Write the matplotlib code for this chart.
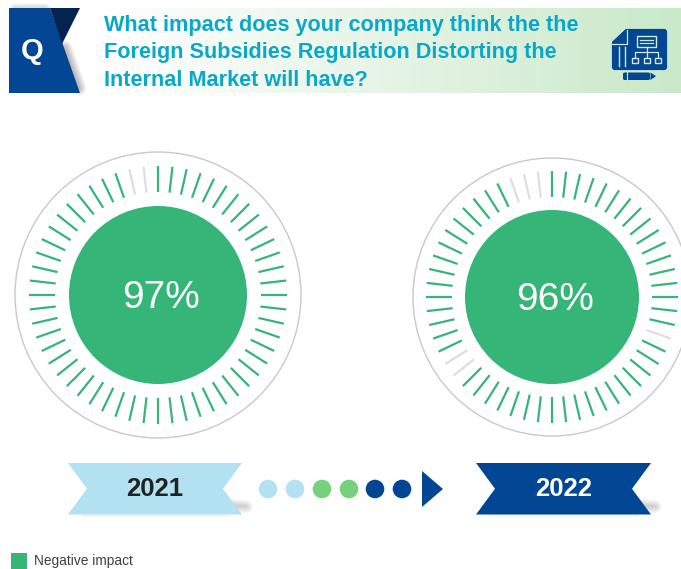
import numpy as np
import matplotlib
matplotlib.use('Agg')
import matplotlib.pyplot as plt
from matplotlib.patches import Polygon, Circle, FancyBboxPatch, Rectangle
from matplotlib.colors import LinearSegmentedColormap

# ===== Data =====
title_lines = ['What impact does your company think the the',
               'Foreign Subsidies Regulation Distorting the',
               'Internal Market will have?']
years = ['2021', '2022']
values = [97, 96]
legend_label = 'Negative impact'
n_ticks = 56
# ticks left grey, counted clockwise from 12 o'clock
grey_ticks = [[54, 55], [17, 36, 37, 53, 54, 55]]

BLUE = '#034694'
NAVY = '#04234F'
SKY = '#B2E2F2'
LEAF = '#75D17D'
GREEN = '#36B579'
TEAL = '#0AA8C8'

plt.rcParams['font.family'] = ['Liberation Sans', 'DejaVu Sans']

fig = plt.figure(figsize=(6.81, 5.69), dpi=100)
ax = fig.add_axes([0, 0, 1, 1])


def soft_line(x0, y0, x1, y1, width, alpha=0.015):
    # blurred shadow built from stacked round strokes
    for w in np.linspace(1, width, 12):
        ax.plot([x0, x1], [y0, y1], color='black', lw=w, alpha=alpha,
                solid_capstyle='round', zorder=1)


def draw_gauge(cx, cy, r_ring, r_in, r_out, r_disc, value, grey, text_x, font_size):
    ax.add_patch(Circle((cx, cy), r_ring, fc='white', ec='#C9C9C9', lw=1.0, zorder=2))
    for i in range(n_ticks):
        a = 2 * np.pi * i / n_ticks
        color = '#DEDEDE' if i in grey else GREEN
        ax.plot([cx + r_in * np.sin(a), cx + r_out * np.sin(a)],
                [cy - r_in * np.cos(a), cy - r_out * np.cos(a)],
                color=color, lw=1.6, solid_capstyle='butt', zorder=3)
    ax.add_patch(Circle((cx, cy), r_disc, fc=GREEN, ec='none', zorder=3))
    ax.text(text_x, cy + 3, f'{value}%', color='white', fontsize=font_size,
            ha='center', va='center', zorder=4)


def draw_ribbon(x0, x1, y0, y1, notch, color, label, text_color):
    ym = (y0 + y1) / 2
    soft_line(x1 - 12, y1 - 9, x1 + 4, y1 - 8, 10, alpha=0.014)
    soft_line(x0 + 14, y1 + 0.5, x1 - 14, y1 + 0.5, 4, alpha=0.005)
    ax.add_patch(Polygon([(x0, y0), (x1, y0), (x1 - notch, ym), (x1, y1), (x0, y1),
                          (x0 + notch, ym)], fc=color, ec='none', zorder=3))
    ax.text((x0 + x1) / 2, ym + 0.5, label, color=text_color, fontsize=18.5, fontweight='bold',
            ha='center', va='center', zorder=4)


# ===== Header band =====
fade = LinearSegmentedColormap.from_list('fade', ['#FFFFFF', '#E6F4E6', '#C9E9C9'])
ax.imshow(np.linspace(0, 1, 256).reshape(1, -1), cmap=fade, aspect='auto',
          extent=(100, 681, 93, 8), zorder=0)

soft_line(65, 48, 79, 88, 11, alpha=0.025)
soft_line(14, 7, 46, 7, 6, alpha=0.012)
ax.add_patch(Polygon([(9, 8), (50, 8), (80, 93), (9, 93)], fc=BLUE, ec='none', zorder=3))
ax.add_patch(Polygon([(50, 8), (80, 8), (62, 44)], fc=NAVY, ec='none', zorder=3))
ax.text(32, 51, 'Q', color='white', fontsize=21, fontweight='bold',
        ha='center', va='center', zorder=4)

for line, base in zip(title_lines, [31, 58, 86]):
    ax.text(104, base, line, color=TEAL, fontsize=15.6, fontweight='bold',
            ha='left', va='baseline', zorder=4)

# document icon
ax.add_patch(FancyBboxPatch((614, 31), 51, 37, boxstyle='round,pad=0,rounding_size=1',
                            fc=BLUE, ec=BLUE, lw=3, zorder=3))
ax.add_patch(Polygon([(610, 27), (628, 27), (610, 44)], fc='#CFEBCF', ec='none', zorder=4))
ax.add_patch(Polygon([(612, 42), (626, 29), (626, 42)], fc=BLUE, ec='none', zorder=4))
icon_line = '#CFEBCF'
for x in [619, 625]:
    ax.plot([x, x], [47, 66], color=icon_line, lw=1, zorder=5)
ax.plot([612, 627, 627], [44, 44, 30], color=icon_line, lw=0.9, zorder=5)
ax.add_patch(Rectangle((637, 36), 19, 11, fc='none', ec=icon_line, lw=1, zorder=5))
for y in [40, 43]:
    ax.plot([640, 653], [y, y], color=icon_line, lw=0.9, zorder=5)
ax.plot([646.5, 646.5], [47, 57], color=icon_line, lw=0.9, zorder=5)
ax.plot([635, 635, 658, 658], [57, 52, 52, 57], color=icon_line, lw=0.9, zorder=5)
for x in [632, 643.5, 655]:
    ax.add_patch(Rectangle((x, 57.5), 6, 5.5, fc='none', ec=icon_line, lw=1, zorder=5))
ax.add_patch(FancyBboxPatch((623, 72.5), 27, 7.5, boxstyle='round,pad=0,rounding_size=1.5',
                            fc=BLUE, ec='none', zorder=3))
ax.plot([627, 627], [72, 81], color='#C9E9C9', lw=0.8, zorder=4)
ax.add_patch(Polygon([(650.5, 72.5), (656, 76.2), (650.5, 80)], fc=BLUE, ec='none', zorder=3))

# ===== Gauges =====
draw_gauge(158, 295, 143, 103, 129, 89, values[0], grey_ticks[0], 160.5, 28)
draw_gauge(552, 297, 139, 100, 126, 87, values[1], grey_ticks[1], 555, 28)

# ===== Timeline =====
draw_ribbon(68, 242, 463, 514.5, 19, SKY, years[0], '#222222')
draw_ribbon(476, 651, 463, 514.5, 19, BLUE, years[1], 'white')

for x, c in zip([268, 295, 322, 349, 375, 402], [SKY, SKY, LEAF, LEAF, BLUE, BLUE]):
    ax.add_patch(Circle((x, 489), 9.3, fc=c, ec='none', zorder=3))
ax.add_patch(Polygon([(422, 471), (443, 489), (422, 507)], fc=BLUE, ec='none', zorder=3))

# ===== Legend =====
ax.add_patch(Rectangle((11, 553), 16, 16, fc=GREEN, ec='none', zorder=3))
ax.text(34, 561, legend_label, color='#404040', fontsize=9.9, ha='left', va='center', zorder=4)

ax.set_xlim(0, 681)
ax.set_ylim(569, 0)
ax.axis('off')
fig.savefig('out.png', dpi=100)
